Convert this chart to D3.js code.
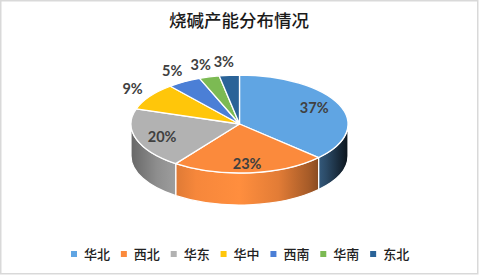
<!DOCTYPE html>
<html>
<head>
<meta charset="utf-8">
<script src="https://cdn.jsdelivr.net/npm/d3@7"></script>
<style>
  html, body { margin: 0; padding: 0; background: #fff; }
  svg { display: block; }
</style>
</head>
<body>
<svg id="chart" width="480" height="276"></svg>
<script>
// Caustic soda capacity share by region
const categories = ["华北", "西北", "华东", "华中", "西南", "华南", "东北"];
const shares = [37, 23, 20, 9, 5, 3, 3];
const colors = ["#60a5e3", "#fb8a3c", "#b2b2b2", "#ffc60a", "#4b7fd6", "#7cba53", "#2a6398"];
const title = "烧碱产能分布情况";

const W = 480, H = 276;
const svg = d3.select("#chart");
const defs = svg.append("defs");

// frame
svg.append("rect")
  .attr("x", 0.75).attr("y", 0.75)
  .attr("width", 477).attr("height", 273)
  .attr("fill", "#fff")
  .attr("stroke", "#d9d9d9").attr("stroke-width", 1.5);

// title
svg.append("text")
  .attr("x", 239).attr("y", 27)
  .attr("text-anchor", "middle")
  .attr("font-family", "'Noto Sans CJK SC', sans-serif")
  .attr("font-size", 17.5)
  .attr("font-weight", 500)
  .attr("fill", "#1a1a1a")
  .text(title);

// tilted pie geometry
const cx = 239.5, cy = 124, rx = 108.5, ry = 49, depth = 32;
const pie = d3.pie().sort(null).value(d => d).startAngle(0).endAngle(2 * Math.PI);
const arcs = pie(shares);

const pt = (a, r = 1) => [cx + r * rx * Math.sin(a), cy - r * ry * Math.cos(a)];

// side shading: a horizontal light falloff across the wall
const shadeStops = [
  [0.00, 0.58], [0.12, 0.80], [0.30, 0.98], [0.50, 1.03],
  [0.68, 0.90], [0.82, 0.66], [0.90, 0.45], [0.96, 0.25], [1.00, 0.12]
];
colors.forEach((c, i) => {
  const g = defs.append("linearGradient")
    .attr("id", "side" + i)
    .attr("gradientUnits", "userSpaceOnUse")
    .attr("x1", cx - rx).attr("x2", cx + rx)
    .attr("y1", 0).attr("y2", 0);
  const base = d3.rgb(c);
  shadeStops.forEach(([o, k]) => {
    const s = d3.rgb(
      Math.min(255, base.r * k),
      Math.min(255, base.g * k),
      Math.min(255, base.b * k));
    g.append("stop").attr("offset", o).attr("stop-color", s.formatHex());
  });
});

// outer walls: only the front half (angles between 90° and 270°) is visible
const front0 = Math.PI / 2, front1 = 3 * Math.PI / 2;
const walls = svg.append("g");
arcs.forEach((d, i) => {
  const s = Math.max(d.startAngle, front0);
  const e = Math.min(d.endAngle, front1);
  if (e <= s) return;
  const [x0, y0] = pt(s), [x1, y1] = pt(e);
  const path = `M${x0},${y0} A${rx},${ry} 0 0 1 ${x1},${y1}` +
    ` L${x1},${y1 + depth} A${rx},${ry} 0 0 0 ${x0},${y0 + depth} Z`;
  walls.append("path")
    .attr("d", path)
    .attr("fill", `url(#side${i})`)
    .attr("stroke", "#fff").attr("stroke-width", 1.2)
    .attr("stroke-linejoin", "round");
});

// top faces
const tops = svg.append("g");
arcs.forEach((d, i) => {
  const [x0, y0] = pt(d.startAngle), [x1, y1] = pt(d.endAngle);
  const large = (d.endAngle - d.startAngle) > Math.PI ? 1 : 0;
  tops.append("path")
    .attr("d", `M${cx},${cy} L${x0},${y0} A${rx},${ry} 0 ${large} 1 ${x1},${y1} Z`)
    .attr("fill", colors[i])
    .attr("stroke", "#fff").attr("stroke-width", 1.3)
    .attr("stroke-linejoin", "round");
});

// data labels: large slices inside, small slices just outside the rim
const labels = svg.append("g")
  .attr("font-family", "Lato, 'Open Sans', sans-serif")
  .attr("font-weight", 700)
  .attr("font-size", 14.5)
  .attr("fill", "#404040")
  .attr("text-anchor", "middle");
arcs.forEach((d, i) => {
  const a = (d.startAngle + d.endAngle) / 2;
  let x, y;
  if (d.value >= 15) {
    x = cx + 0.75 * rx * Math.sin(a);
    y = cy - 0.82 * ry * Math.cos(a);
  } else {
    const [px, py] = pt(a);
    x = px + Math.sin(a) * 16 - 4;
    y = py - Math.cos(a) * 13;
  }
  labels.append("text")
    .attr("x", x).attr("y", y)
    .attr("dy", "0.36em")
    .text(d3.format(".0%")(d.value / 100));
});

// legend
const lx = d3.scaleBand().domain(categories).range([70, 419]);
const legend = svg.append("g")
  .attr("font-family", "'Noto Sans CJK SC', sans-serif")
  .attr("font-size", 13)
  .attr("font-weight", 500)
  .attr("fill", "#222");
categories.forEach((c, i) => {
  const x = lx(c);
  legend.append("rect")
    .attr("x", x + 1).attr("y", 251)
    .attr("width", 6).attr("height", 6)
    .attr("fill", colors[i]);
  legend.append("text")
    .attr("x", x + 14).attr("y", 254)
    .attr("dy", "0.36em")
    .text(c);
});
</script>
</body>
</html>
